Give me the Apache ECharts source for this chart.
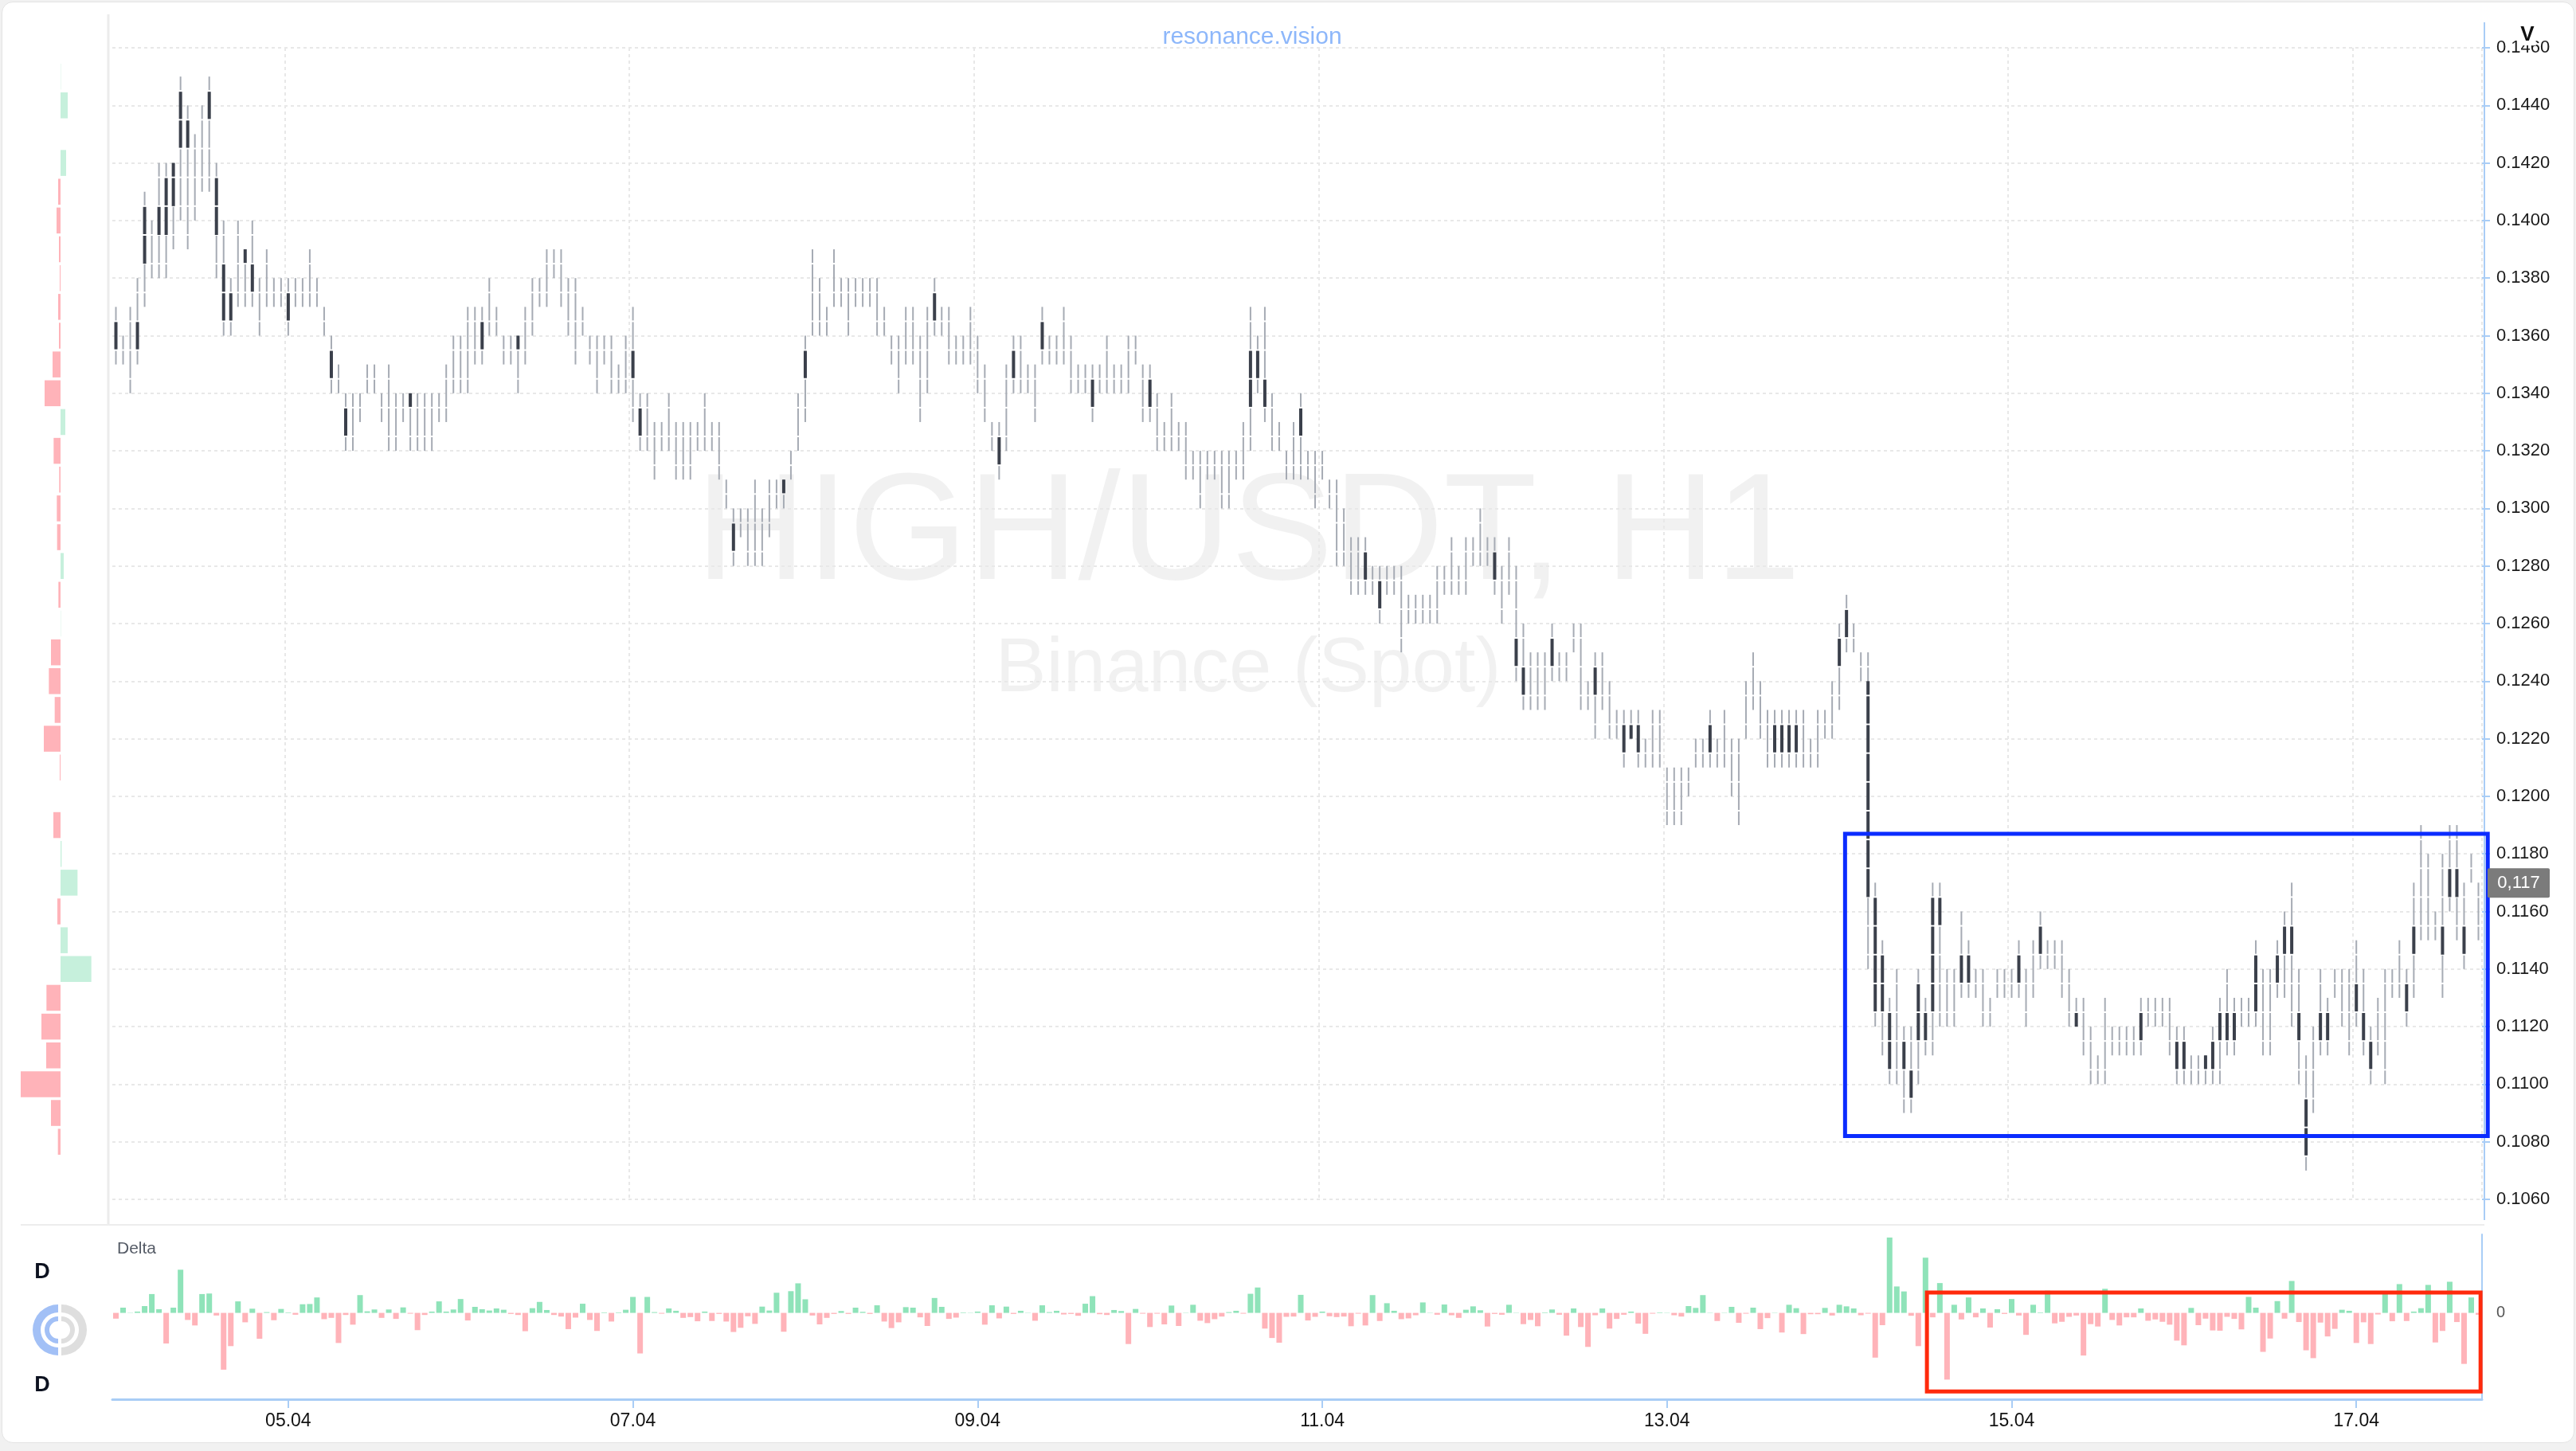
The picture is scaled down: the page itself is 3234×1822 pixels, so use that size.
<!DOCTYPE html>
<html><head><meta charset="utf-8">
<script src="https://cdn.jsdelivr.net/npm/echarts@6/dist/echarts.min.js"></script>
<style>
html,body{margin:0;padding:0;background:#f1f1f1;}
#card{position:absolute;left:2px;top:2px;width:3228px;height:1808px;background:#fff;border:1px solid #e4e4e4;border-radius:14px;}
#chart{position:absolute;left:0;top:0;width:3234px;height:1822px;}
</style></head><body>
<div id="card"></div><div id="chart"></div>
<script>
// ---------- DATA ----------
const dayLabels = ['04.04','05.04','06.04','07.04','08.04','09.04','10.04','11.04','12.04','13.04','14.04','15.04','16.04','17.04'];
const candleCount = 330;
const priceTicks = {min: 0.106, max: 0.146, step: 0.002};

const opens = [
.1365,.1355,.1355,.1355,.1385,.139,.1395,.1415,.1405,.1425,
.1435,.1415,.1425,.1435,.1415,.1385,.1365,.1385,.139,.1385,
.137,.138,.1375,.1375,.1375,.1375,.1375,.138,.1375,.1365,
.1355,.1345,.1335,.133,.1335,.1345,.1345,.1335,.1335,.133,
.1335,.134,.133,.133,.133,.1335,.134,.135,.135,.1355,
.136,.1355,.137,.1365,.1355,.1355,.136,.136,.137,.1375,
.138,.1385,.138,.137,.1365,.1365,.1355,.135,.1355,.135,
.1345,.135,.1355,.1335,.133,.132,.1325,.133,.132,.132,
.132,.1325,.133,.1325,.132,.1305,.1295,.1295,.129,.1295,
.129,.130,.1305,.1305,.1315,.133,.1345,.1375,.137,.1365,
.138,.1375,.137,.1375,.1375,.1375,.137,.1365,.1355,.135,
.136,.136,.1345,.1355,.1365,.1365,.136,.1355,.1355,.136,
.135,.134,.1325,.1325,.1335,.1345,.135,.1345,.134,.1355,
.1355,.1355,.136,.135,.1345,.1345,.1345,.1345,.135,.1345,
.1345,.135,.1355,.134,.1345,.133,.1325,.133,.1325,.132,
.1315,.131,.1315,.1315,.131,.131,.1315,.132,.1335,.1355,
.1345,.133,.1325,.1315,.132,.1325,.1315,.131,.1315,.1305,
.1295,.129,.128,.128,.1285,.1275,.1275,.1275,.1275,.1265,
.1265,.1265,.1265,.1265,.127,.1275,.128,.1275,.128,.1285,
.129,.1285,.1285,.127,.128,.1255,.1245,.124,.124,.124,
.1245,.1245,.1245,.1255,.1245,.1235,.1245,.124,.123,.1225,
.1225,.1225,.1225,.1215,.122,.122,.120,.120,.120,.1205,
.1215,.1215,.1215,.1215,.122,.121,.1205,.123,.124,.123,
.122,.1215,.1225,.1215,.1225,.122,.1215,.122,.1225,.123,
.1245,.1255,.1255,.1245,.124,.1165,.1145,.1125,.112,.1115,
.1105,.1115,.1115,.1125,.1165,.113,.113,.1135,.1145,.1135,
.113,.1125,.1135,.1135,.1135,.1135,.113,.114,.1145,.1145,
.1145,.114,.113,.1125,.112,.111,.1105,.1115,.1115,.1115,
.1115,.1115,.1115,.1125,.1125,.1125,.112,.1115,.1115,.1105,
.1105,.111,.1105,.1115,.1125,.1115,.1125,.1125,.1125,.1125,
.1125,.1135,.1145,.1155,.1125,.1095,.1105,.1115,.1125,.1135,
.113,.1125,.1135,.1125,.1115,.112,.112,.1135,.114,.1125,
.1145,.117,.1165,.1155,.1155,.1165,.1175,.1155,.1175,.117];

const closes = [
.1355,.1355,.1355,.1365,.1405,.139,.1405,.1395,.142,.1445,
.1425,.1415,.1425,.1445,.1395,.1365,.1375,.1385,.1385,.1375,
.137,.138,.1375,.1375,.1365,.1375,.1375,.138,.1375,.1365,
.1345,.1345,.1325,.133,.1335,.1345,.1345,.1335,.1335,.133,
.1335,.1335,.133,.133,.133,.1335,.134,.135,.135,.1355,
.136,.1365,.137,.1365,.1355,.1355,.1355,.136,.137,.1375,
.138,.1385,.138,.137,.1365,.1365,.1355,.135,.1355,.135,
.1345,.135,.1345,.1325,.133,.132,.1325,.133,.132,.132,
.132,.1325,.133,.1325,.132,.1305,.1285,.1295,.129,.1295,
.129,.130,.1305,.131,.1315,.133,.1355,.1375,.137,.1365,
.138,.1375,.137,.1375,.1375,.1375,.137,.1365,.1355,.135,
.136,.136,.1345,.1355,.1375,.1365,.136,.1355,.1355,.136,
.135,.134,.1325,.1315,.1335,.1355,.135,.1345,.134,.1365,
.1355,.1355,.136,.135,.1345,.1345,.1335,.1345,.135,.1345,
.1345,.135,.1355,.134,.1335,.133,.1325,.133,.1325,.132,
.1315,.131,.1315,.1315,.131,.131,.1315,.132,.1355,.1345,
.1335,.133,.1325,.1315,.132,.1335,.1315,.131,.1315,.1305,
.1295,.129,.128,.128,.1275,.1275,.1265,.1275,.1275,.1265,
.1265,.1265,.1265,.1265,.127,.1275,.128,.1275,.128,.1285,
.129,.1285,.1275,.127,.128,.1245,.1235,.124,.124,.124,
.1255,.1245,.1245,.1255,.1245,.1235,.1235,.124,.123,.1225,
.1215,.122,.1215,.1215,.122,.122,.120,.120,.120,.1205,
.1215,.1215,.1225,.1215,.122,.121,.1205,.123,.124,.123,
.122,.1225,.1215,.1225,.1215,.122,.1215,.122,.1225,.123,
.1255,.1265,.1255,.1245,.1165,.1125,.1125,.1105,.112,.1105,
.1095,.1135,.1125,.1165,.1155,.113,.113,.1145,.1135,.1135,
.113,.1125,.1135,.1135,.1135,.1145,.113,.114,.1155,.1145,
.1145,.114,.113,.112,.112,.111,.1105,.1115,.1115,.1115,
.1115,.1115,.1125,.1125,.1125,.1125,.112,.1105,.1105,.1105,
.1105,.1105,.1115,.1125,.1115,.1125,.1125,.1125,.1145,.1125,
.1125,.1145,.1155,.1145,.1115,.1075,.1105,.1125,.1115,.1135,
.113,.1125,.1125,.1115,.1105,.112,.112,.1135,.114,.1135,
.1155,.117,.1165,.1155,.1145,.1175,.1165,.1145,.1175,.117];

const highs = [
.137,.136,.137,.138,.141,.140,.142,.142,.142,.145,
.144,.143,.144,.145,.142,.140,.138,.140,.139,.140,
.138,.139,.138,.138,.138,.138,.138,.139,.138,.137,
.136,.135,.134,.134,.134,.135,.135,.134,.135,.134,
.134,.134,.134,.134,.134,.134,.135,.136,.136,.137,
.137,.137,.138,.137,.136,.136,.136,.137,.138,.138,
.139,.139,.139,.138,.138,.137,.136,.136,.136,.136,
.135,.136,.137,.134,.134,.133,.133,.134,.133,.133,
.133,.133,.134,.133,.133,.131,.130,.130,.130,.131,
.130,.131,.131,.131,.132,.134,.136,.139,.138,.137,
.139,.138,.138,.138,.138,.138,.138,.137,.136,.136,
.137,.137,.136,.137,.138,.137,.137,.136,.136,.137,
.136,.135,.133,.133,.135,.136,.136,.135,.135,.137,
.136,.136,.137,.136,.135,.135,.135,.135,.136,.135,
.135,.136,.136,.135,.135,.134,.133,.134,.133,.133,
.132,.132,.132,.132,.132,.132,.132,.133,.137,.136,
.137,.134,.133,.132,.133,.134,.132,.132,.132,.131,
.131,.130,.129,.129,.129,.128,.128,.128,.128,.128,
.127,.127,.127,.127,.128,.128,.129,.128,.129,.129,
.130,.129,.129,.128,.129,.128,.126,.125,.125,.125,
.126,.125,.125,.126,.126,.124,.125,.125,.124,.123,
.123,.123,.123,.122,.123,.123,.121,.121,.121,.121,
.122,.122,.123,.122,.123,.122,.122,.124,.125,.124,
.123,.123,.123,.123,.123,.123,.122,.123,.123,.124,
.126,.127,.126,.125,.125,.117,.115,.113,.114,.112,
.112,.114,.113,.117,.117,.114,.114,.116,.115,.114,
.114,.113,.114,.114,.114,.115,.114,.115,.116,.115,
.115,.115,.114,.113,.113,.112,.111,.113,.112,.112,
.112,.112,.113,.113,.113,.113,.113,.112,.112,.111,
.111,.111,.112,.113,.114,.113,.113,.113,.115,.114,
.114,.115,.116,.117,.114,.111,.112,.114,.113,.114,
.114,.114,.115,.114,.112,.113,.114,.114,.115,.114,
.117,.119,.118,.116,.118,.119,.119,.117,.118,.117];

const lows = [
.135,.135,.134,.135,.137,.138,.138,.138,.139,.140,
.139,.140,.141,.141,.138,.136,.136,.137,.137,.137,
.136,.137,.137,.137,.136,.137,.137,.137,.137,.136,
.134,.134,.132,.132,.133,.134,.134,.133,.132,.132,
.133,.132,.132,.132,.132,.133,.133,.134,.134,.134,
.135,.135,.136,.136,.135,.135,.134,.135,.136,.137,
.137,.138,.137,.136,.135,.136,.135,.134,.135,.134,
.134,.134,.133,.132,.132,.131,.132,.132,.131,.131,
.131,.132,.132,.132,.131,.130,.128,.129,.128,.128,
.128,.129,.130,.130,.131,.132,.133,.136,.136,.136,
.137,.137,.136,.137,.137,.137,.136,.136,.135,.134,
.135,.135,.133,.134,.136,.136,.135,.135,.135,.135,
.134,.133,.132,.131,.132,.134,.134,.134,.133,.135,
.135,.135,.135,.134,.134,.134,.133,.134,.134,.134,
.134,.134,.135,.133,.133,.132,.132,.132,.132,.131,
.131,.130,.131,.131,.130,.130,.131,.131,.132,.134,
.133,.132,.132,.131,.131,.131,.131,.130,.131,.130,
.128,.128,.127,.127,.127,.127,.126,.127,.127,.125,
.126,.126,.126,.126,.126,.127,.127,.127,.127,.128,
.128,.128,.127,.126,.127,.124,.123,.123,.123,.123,
.124,.124,.124,.125,.123,.123,.122,.123,.122,.122,
.121,.122,.121,.121,.121,.121,.119,.119,.119,.120,
.121,.121,.121,.121,.121,.120,.119,.122,.123,.122,
.121,.121,.121,.121,.121,.121,.121,.121,.122,.122,
.123,.125,.125,.124,.114,.112,.111,.110,.110,.109,
.109,.110,.111,.111,.112,.112,.112,.113,.113,.113,
.112,.112,.113,.113,.113,.113,.112,.113,.114,.114,
.114,.113,.112,.112,.111,.110,.110,.110,.111,.111,
.111,.111,.111,.112,.112,.112,.111,.110,.110,.110,
.110,.110,.110,.110,.111,.111,.112,.112,.112,.111,
.111,.113,.113,.112,.110,.107,.109,.111,.111,.113,
.112,.111,.112,.111,.110,.111,.110,.113,.113,.112,
.113,.115,.115,.115,.113,.116,.115,.114,.117,.115];

const deltas = [
-22,20,1,5,26,72,14,-117,20,165,
-27,-48,72,74,-10,-217,-127,44,-36,16,
-99,3,-28,15,2,-7,33,34,59,-24,
-19,-115,-8,-45,68,6,13,-19,13,-23,
21,-3,-66,-8,5,44,5,13,53,-29,
23,14,9,17,12,-4,-8,-70,18,42,
11,-8,-14,-62,-18,35,-27,-69,2,-33,
2,12,61,-155,61,3,-3,17,8,-19,
-16,-32,5,-31,-4,-33,-73,-57,-13,-42,
24,9,77,-72,83,113,52,-10,-44,-19,
-4,7,-4,20,4,-4,29,-33,-58,-36,
22,20,-17,-50,57,23,-23,-18,2,1,
5,-45,29,-21,24,-4,8,1,-30,29,
3,8,-6,-4,-11,35,64,-5,-8,11,
7,-119,15,-3,-54,-3,-44,28,-50,1,
31,-30,-39,-24,-14,3,8,-3,73,97,
-60,-96,-114,-15,-14,69,-29,-15,5,-13,
-16,-14,-51,-3,-48,68,-31,37,8,-24,
-21,-9,40,1,-7,32,-9,-19,12,25,
10,-52,-4,-7,31,1,-43,-27,-51,2,
13,-7,-87,17,-54,-130,-9,17,-60,-23,
-7,5,-41,-80,-3,2,1,-9,-14,26,
19,68,1,-31,1,23,-38,-3,20,-62,
-20,1,-75,31,18,-81,-5,-5,19,-10,
31,25,17,-9,-3,-171,-47,288,101,82,
-11,-127,211,-17,114,-255,31,-25,59,-17,
17,-56,14,-4,53,-10,-84,31,2,85,
-40,-34,-15,-10,-163,-43,-52,92,-27,-48,
-17,-17,17,-30,-25,-34,-45,-106,-124,19,
-47,-22,-67,-68,-15,-23,-63,61,20,-149,
-98,45,-22,122,-35,-143,-173,-37,-90,-61,
12,8,-115,-36,-119,-6,82,-32,110,-31,
5,18,107,-113,-69,119,-35,-195,59,-7];

const profileLevels = [.145,.144,.143,.142,.141,.140,.139,.138,.137,.136,.135,.134,.133,.132,.131,.130,.129,.128,.127,.126,.125,.124,.123,.122,.121,.120,.119,.118,.117,.116,.115,.114,.113,.112,.111,.110,.109,.108];
const profileDelta  = [1,27,0,21,-9,-15,-6,-3,-9,-6,-30,-60,18,-26,-5,-14,-13,12,-8,1,-36,-44,-22,-63,-3,0,-27,4,64,-12,27,116,-53,-72,-54,-150,-36,-10];

// annotation boxes: [fromIndex, toIndex, topValue, bottomValue]
const priceBox = [240.8, 330.3, 0.1187, 0.1082];
const deltaBox = [252.2, 329.3, 78, -300];

const symbolText = 'HIGH/USDT, H1';
const exchangeText = 'Binance (Spot)';

// ---------- BUILD ----------
const categories = [];
for (let d = 0; d < dayLabels.length && categories.length < candleCount; d++) {
  for (let h = 0; h < 24 && categories.length < candleCount; h++) {
    categories.push(dayLabels[d] + ' ' + String(h).padStart(2, '0') + ':00');
  }
}
const candleData = opens.map((o, i) => [i, o, closes[i], lows[i], highs[i]]);
const profileData = profileLevels.map((p, i) => [profileDelta[i], p]);

const FONT = "'Liberation Sans', Arial, Helvetica, sans-serif";
const WICK = '#a6abb4';
const BODY = '#3b404b';
const AXIS_BLUE = '#a9cdf6';
const GREEN = '#8fe3b9';
const PINK = '#ffb3b9';
const labelEvery = (idx) => idx % 48 === 24;

function renderCandle(params, api) {
  const idx = api.value(0), o = api.value(1), c = api.value(2), l = api.value(3), h = api.value(4);
  const x = api.coord([idx, h])[0];
  const bounds = [h];
  for (let p = h - 0.0005; p > l + 1e-7; p -= 0.001) bounds.push(p);
  bounds.push(l);
  const children = [];
  const top = Math.max(o, c), bot = Math.min(o, c);
  const hasBody = top - bot > 1e-7;
  for (let k = 0; k < bounds.length - 1; k++) {
    const pa = bounds[k], pb = bounds[k + 1];
    const y1 = api.coord([idx, pa])[1] + (k > 0 ? 1 : 0);
    const y2 = api.coord([idx, pb])[1] - (k < bounds.length - 2 ? 1 : 0);
    children.push({type: 'rect', shape: {x: x - 1, y: y1, width: 2, height: Math.max(1, y2 - y1)}, style: {fill: WICK}});
    if (hasBody) {
      const sa = Math.min(pa, top), sb = Math.max(pb, bot);
      if (sa - sb > 1e-7) {
        const by1 = api.coord([idx, sa])[1] + (sa === pa && k > 0 ? 1 : 0);
        const by2 = api.coord([idx, sb])[1] - (sb === pb && k < bounds.length - 2 ? 1 : 0);
        children.push({type: 'rect', shape: {x: x - 2, y: by1, width: 4, height: Math.max(1, by2 - by1)}, style: {fill: BODY}});
      }
    }
  }
  return {type: 'group', children};
}

function renderProfile(params, api) {
  const v = api.value(0), p = api.value(1);
  const a = api.coord([0, p + 0.00045]);
  const b = api.coord([v, p - 0.00045]);
  return {type: 'rect', shape: {x: Math.min(a[0], b[0]), y: a[1], width: Math.abs(b[0] - a[0]), height: b[1] - a[1]},
          style: {fill: v >= 0 ? '#c6f0dc' : PINK}};
}

const chart = echarts.init(document.getElementById('chart'), null, {renderer: 'canvas'});
const option = {
  animation: false,
  backgroundColor: 'transparent',
  textStyle: {fontFamily: FONT},
  grid: [
    {left: 141, width: 2975, top: 60, height: 1446},
    {left: 141, width: 2975, top: 1550, height: 207},
    {left: 0, width: 136, top: 60, height: 1446}
  ],
  xAxis: [
    {type: 'category', gridIndex: 0, data: categories, boundaryGap: true,
     axisLine: {show: false}, axisTick: {show: false}, axisLabel: {show: false},
     splitLine: {show: true, interval: labelEvery, lineStyle: {color: '#e8e8e8', type: [4, 4], width: 2}}},
    {type: 'category', gridIndex: 1, data: categories, boundaryGap: true, position: 'bottom',
     axisLine: {show: true, onZero: false, lineStyle: {color: AXIS_BLUE, width: 3}},
     axisTick: {show: true, alignWithLabel: true, interval: labelEvery, length: 11, lineStyle: {color: AXIS_BLUE, width: 2}},
     axisLabel: {show: true, interval: labelEvery, formatter: v => v.slice(0, 5), fontSize: 23, color: '#111', margin: 16, fontFamily: FONT},
     splitLine: {show: false}},
    {type: 'value', gridIndex: 2, min: -228, max: 180, show: false}
  ],
  yAxis: [
    {type: 'value', gridIndex: 0, position: 'right', min: priceTicks.min, max: priceTicks.max, interval: priceTicks.step,
     axisLine: {show: false},
     axisTick: {show: true, length: 10, lineStyle: {color: AXIS_BLUE, width: 2}},
     axisLabel: {formatter: v => v.toFixed(4), fontSize: 22, color: '#1a1a1a', margin: 18, fontFamily: FONT},
     splitLine: {show: true, lineStyle: {color: '#e8e8e8', type: [4, 4], width: 2}}},
    {type: 'value', gridIndex: 1, position: 'right', min: -330, max: 300, interval: 330,
     axisLine: {show: true, lineStyle: {color: AXIS_BLUE, width: 2}},
     axisTick: {show: false},
     axisLabel: {formatter: v => (v === 0 ? '0' : ''), fontSize: 20, color: '#555', margin: 18, fontFamily: FONT},
     splitLine: {show: false}},
    {type: 'value', gridIndex: 2, min: priceTicks.min, max: priceTicks.max, show: false}
  ],
  series: [
    {type: 'custom', name: 'price', xAxisIndex: 0, yAxisIndex: 0, data: candleData,
     encode: {x: 0, y: [1, 2, 3, 4]}, renderItem: renderCandle, z: 5},
    {type: 'bar', name: 'Delta', xAxisIndex: 1, yAxisIndex: 1, data: deltas, barWidth: 7,
     itemStyle: {color: p => (p.value >= 0 ? GREEN : PINK)}},
    {type: 'custom', name: 'profile', xAxisIndex: 2, yAxisIndex: 2, data: profileData,
     encode: {x: 0, y: 1}, renderItem: renderProfile}
  ]
};
chart.setOption(option);

// ---------- GRAPHICS (decor + annotations placed via chart coordinates) ----------
const p0 = chart.convertToPixel({gridIndex: 0}, [0, priceBox[2]]);
const p1 = chart.convertToPixel({gridIndex: 0}, [1, priceBox[3]]);
const band = p1[0] - p0[0];
const xOf = (v) => p0[0] + v * band;
const yPrice = (v) => chart.convertToPixel({gridIndex: 0}, [0, v])[1];
const yDelta = (v) => chart.convertToPixel({gridIndex: 1}, [0, v])[1];
const lastClose = closes[closes.length - 1];
const tagY = yPrice(lastClose);

function txt(x, y, text, size, color, weight, align) {
  return {type: 'text', x, y, z: 50,
    style: {text, fill: color, font: (weight || 'normal') + ' ' + size + 'px ' + FONT,
      align: align || 'center', verticalAlign: 'middle', textAlign: align || 'center', textVerticalAlign: 'middle'}};
}

const graphics = [
  // watermark
  {type: 'text', x: 1567, y: 674, z: -1, silent: true,
   style: {text: symbolText, fill: 'rgba(0,0,0,0.055)', font: 'normal 192px ' + FONT, align: 'center', verticalAlign: 'middle', textAlign: 'center', textVerticalAlign: 'middle'}},
  {type: 'text', x: 1567, y: 842, z: -1, silent: true,
   style: {text: exchangeText, fill: 'rgba(0,0,0,0.055)', font: 'normal 96px ' + FONT, align: 'center', verticalAlign: 'middle', textAlign: 'center', textVerticalAlign: 'middle'}},
  txt(1572, 47, 'resonance.vision', 30, '#8db7fa'),
  // panel borders
  {type: 'line', z: 1, shape: {x1: 136, y1: 18, x2: 136, y2: 1537}, style: {stroke: '#ececec', lineWidth: 3}},
  {type: 'line', z: 1, shape: {x1: 26, y1: 1538, x2: 3119, y2: 1538}, style: {stroke: '#ededed', lineWidth: 2}},
  {type: 'line', z: 1, shape: {x1: 3119, y1: 28, x2: 3119, y2: 1532}, style: {stroke: AXIS_BLUE, lineWidth: 2}},
  // V label
  {type: 'text', x: 3173, y: 44, z: 60,
   style: {text: 'V', fill: '#111', font: 'bold 26px ' + FONT, align: 'center', verticalAlign: 'middle', textAlign: 'center', textVerticalAlign: 'middle',
     backgroundColor: '#fff', padding: [0, 2]}},
  // delta panel labels
  txt(147, 1568, 'Delta', 21, '#555b66', 'normal', 'left'),
  txt(53, 1598, 'D', 27, '#0d1220', 'bold'),
  txt(53, 1740, 'D', 27, '#0d1220', 'bold'),
  // icon
  {type: 'sector', shape: {cx: 73, cy: 1670, r0: 22, r: 32, startAngle: Math.PI / 2, endAngle: Math.PI * 1.5}, style: {fill: '#a2c0f6'}},
  {type: 'sector', shape: {cx: 73, cy: 1670, r0: 11, r: 17, startAngle: Math.PI / 2, endAngle: Math.PI * 1.5}, style: {fill: '#a2c0f6'}},
  {type: 'sector', shape: {cx: 77, cy: 1670, r0: 22, r: 32, startAngle: -Math.PI / 2, endAngle: Math.PI / 2}, style: {fill: '#dedede'}},
  {type: 'sector', shape: {cx: 77, cy: 1670, r0: 11, r: 17, startAngle: -Math.PI / 2, endAngle: Math.PI / 2}, style: {fill: '#dedede'}},
  // annotation boxes
  {type: 'rect', z: 40, shape: {x: xOf(priceBox[0]), y: yPrice(priceBox[2]), width: xOf(priceBox[1]) - xOf(priceBox[0]), height: yPrice(priceBox[3]) - yPrice(priceBox[2])},
   style: {fill: 'none', stroke: '#0b2cff', lineWidth: 5}},
  {type: 'rect', z: 40, shape: {x: xOf(deltaBox[0]), y: yDelta(deltaBox[2]), width: xOf(deltaBox[1]) - xOf(deltaBox[0]), height: yDelta(deltaBox[3]) - yDelta(deltaBox[2])},
   style: {fill: 'none', stroke: '#ff2a0c', lineWidth: 5}},
  // last price tag
  {type: 'rect', z: 45, shape: {x: 3123, y: tagY - 18, width: 78, height: 37, r: 2}, style: {fill: '#7b7b7b'}},
  txt(3162, tagY + 1, lastClose.toFixed(3).replace('.', ','), 22, '#ffffff')
];
chart.setOption({graphic: graphics});
</script>
</body></html>
